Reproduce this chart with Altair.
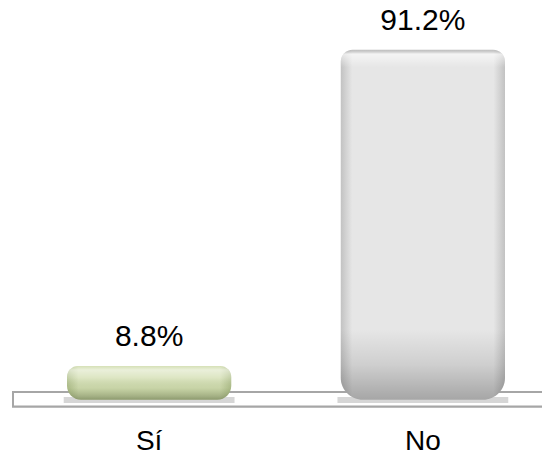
import altair as alt
import pandas as pd

categories = ["Sí", "No"]
values = [8.8, 91.2]
value_labels = ["8.8%", "91.2%"]

df = pd.DataFrame({"cat": categories, "val": values, "lab": value_labels})

FONT = "Liberation Sans"

x_enc = alt.X(
    "cat:N",
    sort=categories,
    scale=alt.Scale(domain=categories, range=[59, 497], paddingInner=0.4, paddingOuter=0),
    axis=alt.Axis(
        title=None, domain=False, ticks=False, grid=False,
        labelFont=FONT, labelFontSize=28, labelColor="#000000",
        labelAngle=0, labelBaseline="alphabetic", labelPadding=34,
    ),
)
y_scale = alt.Scale(domain=[-4, 102.1], nice=False, zero=False)
y_enc = alt.Y("val:Q", scale=y_scale, axis=None)
y0 = alt.Y2(datum=0)

base = alt.Chart(df)

floor = alt.Chart(df).mark_rect(
    fill="#ffffff", stroke="#a6a6a6", strokeWidth=2
).encode(
    x=alt.value(5), x2=alt.value(560), y=alt.value(384), y2=alt.value(398.5)
)

shadow = base.mark_bar(color="#d6d6d6", width=alt.RelativeBandSize(1.04)).encode(
    x=x_enc, y=alt.value(389), y2=alt.value(395)
)


def grad_h(edge, mid):
    return alt.Gradient(
        gradient="linear", x1=0, x2=1, y1=0, y2=0,
        stops=[
            alt.GradientStop(color=edge, offset=0),
            alt.GradientStop(color=mid, offset=0.07),
            alt.GradientStop(color=mid, offset=0.93),
            alt.GradientStop(color=edge, offset=1),
        ],
    )


def grad_v(stops):
    return alt.Gradient(
        gradient="linear", x1=0, x2=0, y1=0, y2=1,
        stops=[alt.GradientStop(color=c, offset=o) for o, c in stops],
    )


# "Sí" bar
si = base.transform_filter(alt.datum.cat == "Sí")
si_base = si.mark_bar(
    color=grad_h("#b3c28f", "#d5e0b5"),
    cornerRadiusTopLeft=11, cornerRadiusTopRight=11,
    cornerRadiusBottomLeft=14, cornerRadiusBottomRight=14,
).encode(x=x_enc, y=y_enc, y2=y0)
si_over = si.mark_bar(
    color=grad_v([
        (0, "rgba(255,255,255,0.0)"),
        (0.12, "rgba(255,255,255,0.5)"),
        (0.35, "rgba(255,255,255,0.2)"),
        (0.65, "rgba(90,110,50,0.1)"),
        (0.9, "rgba(70,85,40,0.35)"),
        (1, "rgba(70,85,40,0.5)"),
    ]),
    cornerRadiusTopLeft=11, cornerRadiusTopRight=11,
    cornerRadiusBottomLeft=14, cornerRadiusBottomRight=14,
).encode(x=x_enc, y=y_enc, y2=y0)

# "No" bar
no = base.transform_filter(alt.datum.cat == "No")
no_base = no.mark_bar(
    color=grad_h("#c2c2c2", "#e6e6e6"),
    cornerRadiusTopLeft=12, cornerRadiusTopRight=12,
    cornerRadiusBottomLeft=22, cornerRadiusBottomRight=22,
).encode(x=x_enc, y=y_enc, y2=y0)
no_over = no.mark_bar(
    color=grad_v([
        (0, "rgba(120,120,120,0.35)"),
        (0.012, "rgba(255,255,255,0.6)"),
        (0.05, "rgba(255,255,255,0.0)"),
        (0.8, "rgba(0,0,0,0.0)"),
        (0.9, "rgba(0,0,0,0.1)"),
        (1, "rgba(0,0,0,0.28)"),
    ]),
    cornerRadiusTopLeft=12, cornerRadiusTopRight=12,
    cornerRadiusBottomLeft=22, cornerRadiusBottomRight=22,
).encode(x=x_enc, y=y_enc, y2=y0)

text = base.mark_text(
    font=FONT, fontSize=30, color="#000000", baseline="alphabetic", dy=-20
).encode(x=x_enc, y=y_enc, text="lab:N")

chart = alt.layer(
    floor, shadow, si_base, si_over, no_base, no_over, text
).properties(
    width=534, height=407,
    padding={"left": 0, "top": 0, "right": 0, "bottom": 36},
    autosize=alt.AutoSizeParams(type="none"),
    background="#ffffff",
).configure_view(stroke=None)

chart.save("out.html", embed_options={"renderer": "svg", "actions": False})
